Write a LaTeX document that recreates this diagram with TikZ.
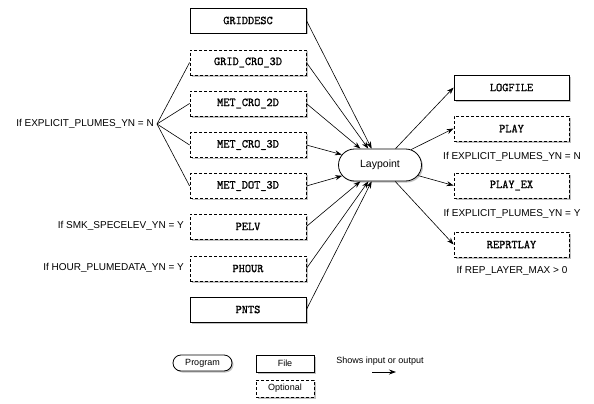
\documentclass[tikz,border=0pt]{standalone}
\usepackage{fontspec}
\setmainfont{Liberation Sans}
\newfontfamily\boxfont{Latin Modern Mono}[FakeBold=1.2]
\usetikzlibrary{arrows.meta,shapes.misc,shadows}
\begin{document}
\begin{tikzpicture}[x=1pt,y=-1pt,
  shad/.style={drop shadow={shadow xshift=1.5pt,shadow yshift=-1.5pt,opacity=0.4,fill=black!60}},
  filebox/.style={draw,fill=white,line width=0.8pt,minimum width=116pt,minimum height=25pt,inner sep=0pt,font=\boxfont\fontsize{12}{13}\selectfont,shad},
  optbox/.style={filebox,dash pattern=on 3pt off 2pt},
  prog/.style={draw,fill=white,line width=0.8pt,rounded rectangle,minimum width=83pt,minimum height=32pt,inner sep=0pt,font=\fontsize{10.5}{12}\selectfont,shad},
  cond/.style={inner sep=0pt,font=\fontsize{10}{12}\selectfont},
  arr/.style={-{Stealth[length=7pt,width=5pt]},line width=0.6pt},
  fan/.style={line width=0.6pt}]
\useasboundingbox (0,0) rectangle (594,404);
% left boxes
\node[filebox] (griddesc) at (248,20.5) {GRIDDESC};
\node[optbox] (gridcro) at (248,62.5) {GRID\_CRO\_3D};
\node[optbox] (metcrotwo) at (248,103.5) {MET\_CRO\_2D};
\node[optbox] (metcrothree) at (248,145) {MET\_CRO\_3D};
\node[optbox] (metdot) at (248,186) {MET\_DOT\_3D};
\node[optbox] (pelv) at (248,226.5) {PELV};
\node[optbox] (phour) at (248,268.5) {PHOUR};
\node[filebox] (pnts) at (248,309.5) {PNTS};
% program
\node[prog] (lay) at (380,165) {Laypoint};
% right boxes
\node[filebox,minimum width=115pt] (logfile) at (511.5,87.5) {LOGFILE};
\node[optbox,minimum width=115pt] (play) at (511.5,128.5) {PLAY};
\node[optbox,minimum width=115pt] (playex) at (511.5,185.5) {PLAY\_EX};
\node[optbox,minimum width=115pt] (reprt) at (511.5,244.5) {REPRTLAY};
% conditions
\node[cond,anchor=east] (cexp) at (154,124) {If EXPLICIT\_PLUMES\_YN = N};
\node[cond,anchor=east] (csmk) at (184,226) {If SMK\_SPECELEV\_YN = Y};
\node[cond,anchor=east] (chour) at (184,268) {If HOUR\_PLUMEDATA\_YN = Y};
\node[cond] (cplayn) at (512,157) {If EXPLICIT\_PLUMES\_YN = N};
\node[cond] (cplayy) at (512,214) {If EXPLICIT\_PLUMES\_YN = Y};
\node[cond] (crep) at (512,271) {If REP\_LAYER\_MAX > 0};
\coordinate (fanpt) at (157,124);
\foreach \b in {gridcro,metcrotwo,metcrothree,metdot}
  \draw[fan] (fanpt) -- (\b.west);
% inputs
\foreach \b in {griddesc,gridcro,metcrotwo,metcrothree,metdot,pelv,phour,pnts}
  \draw[arr] (\b.east) -- (lay);
% outputs
\foreach \b in {logfile,play,playex,reprt}
  \draw[arr] (lay) -- (\b.west);
% legend
\node[prog,minimum width=59pt,minimum height=16pt,font=\fontsize{9}{11}\selectfont] (lprog) at (202.5,363) {Program};
\node[filebox,minimum width=58pt,minimum height=17pt,font=\fontsize{9}{11}\selectfont] (lfile) at (285,363.5) {File};
\node[optbox,minimum width=58pt,minimum height=17pt,font=\fontsize{9}{11}\selectfont] (lopt) at (285,388.5) {Optional};
\node[cond,font=\fontsize{9}{11}\selectfont] (lshow) at (380,361) {Shows input or output};
\coordinate (la) at (372,372);
\coordinate (lb) at (396,372);
\draw[arr,line width=0.8pt] (la) -- (lb);
\end{tikzpicture}
\end{document}
